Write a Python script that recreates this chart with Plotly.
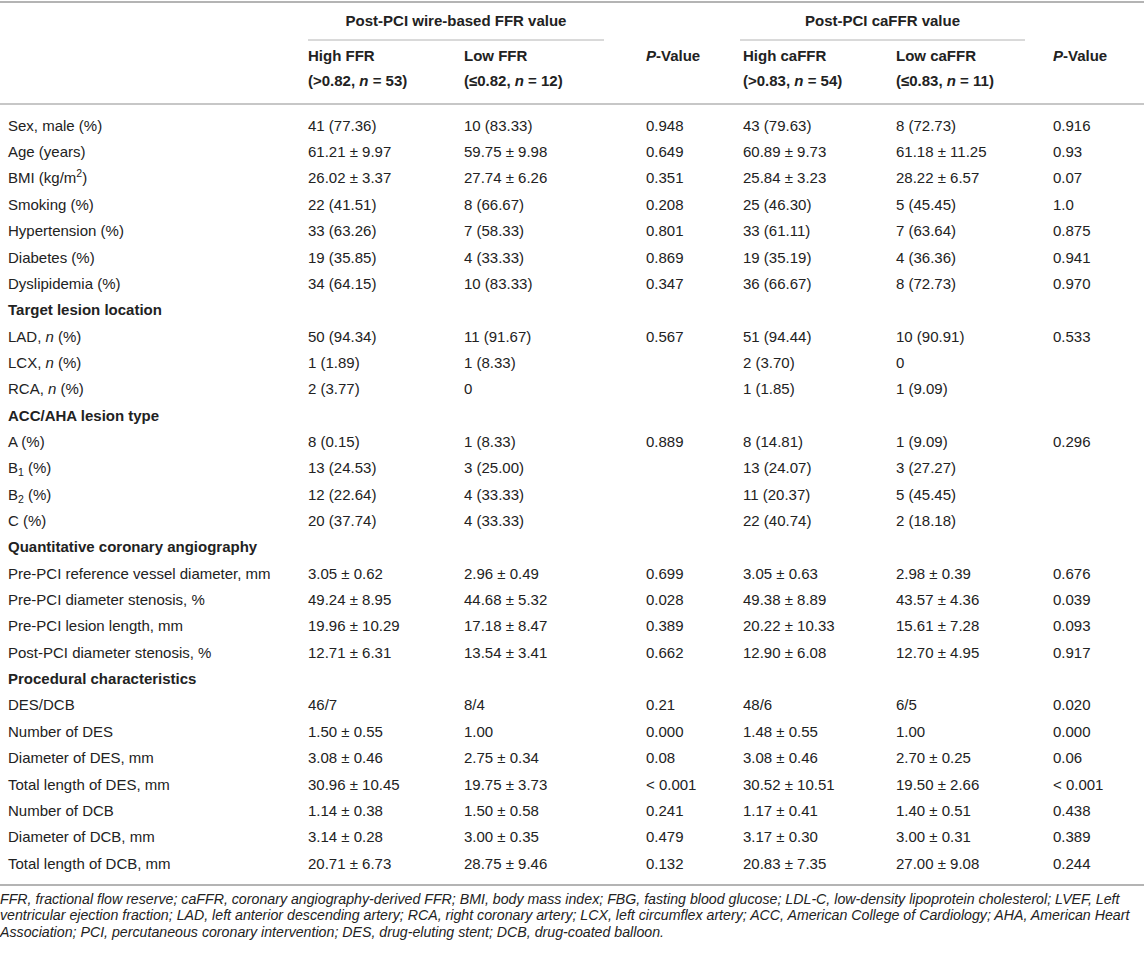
import plotly.graph_objects as go

# table content
row_labels = [
    "Sex, male (%)", "Age (years)", "BMI (kg/m<sup>2</sup>)", "Smoking (%)",
    "Hypertension (%)", "Diabetes (%)", "Dyslipidemia (%)",
    "<b>Target lesion location</b>",
    "LAD, <i>n</i> (%)", "LCX, <i>n</i> (%)", "RCA, <i>n</i> (%)",
    "<b>ACC/AHA lesion type</b>",
    "A (%)", "B<sub>1</sub> (%)", "B<sub>2</sub> (%)", "C (%)",
    "<b>Quantitative coronary angiography</b>",
    "Pre-PCI reference vessel diameter, mm", "Pre-PCI diameter stenosis, %",
    "Pre-PCI lesion length, mm", "Post-PCI diameter stenosis, %",
    "<b>Procedural characteristics</b>",
    "DES/DCB", "Number of DES", "Diameter of DES, mm", "Total length of DES, mm",
    "Number of DCB", "Diameter of DCB, mm", "Total length of DCB, mm",
]
high_ffr = [
    "41 (77.36)", "61.21 ± 9.97", "26.02 ± 3.37", "22 (41.51)", "33 (63.26)", "19 (35.85)", "34 (64.15)",
    "", "50 (94.34)", "1 (1.89)", "2 (3.77)",
    "", "8 (0.15)", "13 (24.53)", "12 (22.64)", "20 (37.74)",
    "", "3.05 ± 0.62", "49.24 ± 8.95", "19.96 ± 10.29", "12.71 ± 6.31",
    "", "46/7", "1.50 ± 0.55", "3.08 ± 0.46", "30.96 ± 10.45", "1.14 ± 0.38", "3.14 ± 0.28", "20.71 ± 6.73",
]
low_ffr = [
    "10 (83.33)", "59.75 ± 9.98", "27.74 ± 6.26", "8 (66.67)", "7 (58.33)", "4 (33.33)", "10 (83.33)",
    "", "11 (91.67)", "1 (8.33)", "0",
    "", "1 (8.33)", "3 (25.00)", "4 (33.33)", "4 (33.33)",
    "", "2.96 ± 0.49", "44.68 ± 5.32", "17.18 ± 8.47", "13.54 ± 3.41",
    "", "8/4", "1.00", "2.75 ± 0.34", "19.75 ± 3.73", "1.50 ± 0.58", "3.00 ± 0.35", "28.75 ± 9.46",
]
p_ffr = [
    "0.948", "0.649", "0.351", "0.208", "0.801", "0.869", "0.347",
    "", "0.567", "", "",
    "", "0.889", "", "", "",
    "", "0.699", "0.028", "0.389", "0.662",
    "", "0.21", "0.000", "0.08", "&lt; 0.001", "0.241", "0.479", "0.132",
]
high_caffr = [
    "43 (79.63)", "60.89 ± 9.73", "25.84 ± 3.23", "25 (46.30)", "33 (61.11)", "19 (35.19)", "36 (66.67)",
    "", "51 (94.44)", "2 (3.70)", "1 (1.85)",
    "", "8 (14.81)", "13 (24.07)", "11 (20.37)", "22 (40.74)",
    "", "3.05 ± 0.63", "49.38 ± 8.89", "20.22 ± 10.33", "12.90 ± 6.08",
    "", "48/6", "1.48 ± 0.55", "3.08 ± 0.46", "30.52 ± 10.51", "1.17 ± 0.41", "3.17 ± 0.30", "20.83 ± 7.35",
]
low_caffr = [
    "8 (72.73)", "61.18 ± 11.25", "28.22 ± 6.57", "5 (45.45)", "7 (63.64)", "4 (36.36)", "8 (72.73)",
    "", "10 (90.91)", "0", "1 (9.09)",
    "", "1 (9.09)", "3 (27.27)", "5 (45.45)", "2 (18.18)",
    "", "2.98 ± 0.39", "43.57 ± 4.36", "15.61 ± 7.28", "12.70 ± 4.95",
    "", "6/5", "1.00", "2.70 ± 0.25", "19.50 ± 2.66", "1.40 ± 0.51", "3.00 ± 0.31", "27.00 ± 9.08",
]
p_caffr = [
    "0.916", "0.93", "0.07", "1.0", "0.875", "0.941", "0.970",
    "", "0.533", "", "",
    "", "0.296", "", "", "",
    "", "0.676", "0.039", "0.093", "0.917",
    "", "0.020", "0.000", "0.06", "&lt; 0.001", "0.438", "0.389", "0.244",
]

group_headers = ["<b>Post-PCI wire-based FFR value</b>", "<b>Post-PCI caFFR value</b>"]
sub_headers_1 = ["<b>High FFR</b>", "<b>Low FFR</b>", "<b><i>P</i>-Value</b>",
                 "<b>High caFFR</b>", "<b>Low caFFR</b>", "<b><i>P</i>-Value</b>"]
sub_headers_2 = ["<b>(&gt;0.82, <i>n</i> = 53)</b>", "<b>(≤0.82, <i>n</i> = 12)</b>", "",
                 "<b>(&gt;0.83, <i>n</i> = 54)</b>", "<b>(≤0.83, <i>n</i> = 11)</b>", ""]

footnote = [
    "FFR, fractional flow reserve; caFFR, coronary angiography-derived FFR; BMI, body mass index; FBG, fasting blood glucose; "
    "LDL-C, low-density lipoprotein cholesterol; LVEF, Left",
    "ventricular ejection fraction; LAD, left anterior descending artery; RCA, right coronary artery; LCX, left circumflex artery; "
    "ACC, American College of Cardiology; AHA, American Heart",
    "Association; PCI, percutaneous coronary intervention; DES, drug-eluting stent; DCB, drug-coated balloon.",
]

W, H = 1144, 953
FONT = "Liberation Sans, Arial, Helvetica, sans-serif"
TEXT = "#222222"
RULE = "#b4b4b4"

col_x = [8, 308, 464, 646, 743, 896, 1053]
row_y0, row_dy = 127, 26.35
group_span = [(308, 604), (740, 1025)]


def text_trace(xs, ys, texts, size=15, pos="middle right"):
    keep = [i for i, t in enumerate(texts) if t]
    return go.Scatter(
        x=[xs[i] for i in keep], y=[ys[i] for i in keep], text=[texts[i] for i in keep],
        mode="text", textposition=pos,
        textfont=dict(family=FONT, size=size, color=TEXT),
        hoverinfo="skip", showlegend=False,
    )


fig = go.Figure()

columns = [row_labels, high_ffr, low_ffr, p_ffr, high_caffr, low_caffr, p_caffr]
ys = [row_y0 + i * row_dy for i in range(len(row_labels))]
for x, vals in zip(col_x, columns):
    fig.add_trace(text_trace([x] * len(vals), ys, vals))

# header rows
fig.add_trace(text_trace(col_x[1:], [57] * 6, sub_headers_1))
fig.add_trace(text_trace(col_x[1:], [82] * 6, sub_headers_2))
fig.add_trace(text_trace([(a + b) / 2 for a, b in group_span], [22, 22], group_headers, pos="middle center"))

# footnote
fig.add_trace(text_trace([0] * len(footnote), [900 + i * 16.5 for i in range(len(footnote))],
                         ["<i>" + t + "</i>" for t in footnote], size=14.2))

# rules
fig.add_shape(type="line", x0=0, x1=W, y0=2, y1=2, line=dict(color=RULE, width=2))
for a, b in group_span:
    fig.add_shape(type="line", x0=a, x1=b, y0=40, y1=40, line=dict(color=RULE, width=1))
fig.add_shape(type="line", x0=0, x1=W, y0=104, y1=104, line=dict(color=RULE, width=1.5))
fig.add_shape(type="line", x0=0, x1=W, y0=885, y1=885, line=dict(color=RULE, width=2))

fig.update_layout(
    width=W, height=H,
    margin=dict(l=0, r=0, t=0, b=0),
    paper_bgcolor="white", plot_bgcolor="white",
    xaxis=dict(range=[0, W], visible=False, fixedrange=True),
    yaxis=dict(range=[H, 0], visible=False, fixedrange=True),
)

fig.write_html("out.html", config={"displayModeBar": False},
               post_script="document.body.style.margin='0';")
